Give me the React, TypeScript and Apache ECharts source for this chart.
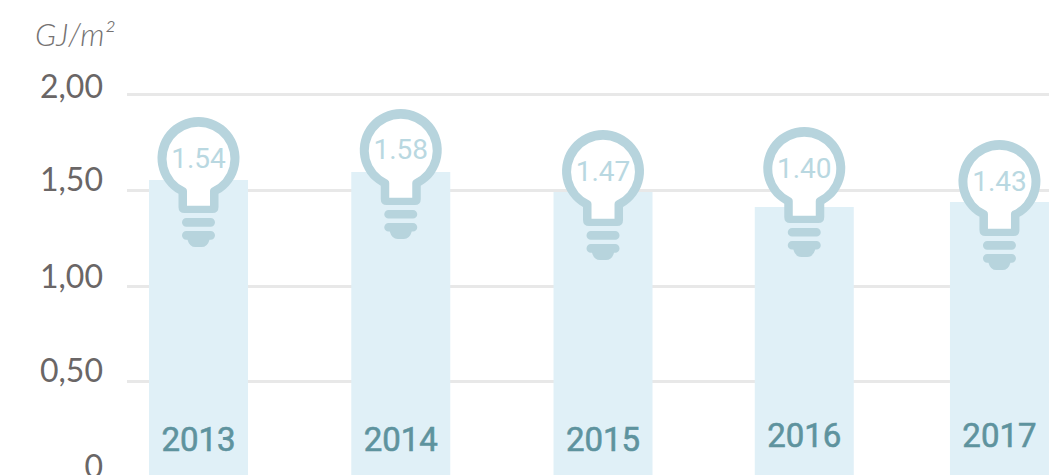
import React, { useEffect, useRef } from "react";
import * as echarts from "echarts";

const years = ["2013", "2014", "2015", "2016", "2017"];
const valueLabels = ["1.54", "1.58", "1.47", "1.40", "1.43"];
// Slots on the hidden horizontal axis: the last column sits a little closer than the others.
const slots = [0, 1, 2, 2.995, 3.96];
// Bar tops, bulb centres and year label heights as read against the y axis.
const barTops = [1.551, 1.593, 1.489, 1.411, 1.437];
const bulbLevels = [1.666, 1.708, 1.598, 1.614, 1.546];
const yearLevels = [0.2, 0.2, 0.2, 0.217, 0.217];
const yTickLabels: Record<string, string> = { "0": "0", "0.5": "0,50", "1": "1,00", "1.5": "1,50", "2": "2,00" };
const unitLabel = "GJ/m²";

echarts.graphic.registerShape(
  "bulbOuter",
  echarts.graphic.extendPath("M-20 35.8A41 41 0 1 1 20 35.8L20 49Q20 55 14 55L-14 55Q-20 55 -20 49Z", {})
);
echarts.graphic.registerShape(
  "bulbInner",
  echarts.graphic.extendPath("M-11.5 33L-11.5 47.7L11.5 47.7L11.5 33Q11.5 31 13 30A32 32 0 1 0 -13 30Q-11.5 31 -11.5 33Z", {})
);
echarts.graphic.registerShape(
  "bulbBase",
  echarts.graphic.extendPath(
    "M-12.2 60L12.2 60A4.3 4.3 0 0 1 12.2 68.6L-12.2 68.6A4.3 4.3 0 0 1 -12.2 60ZM-12.2 73L12.2 73A4.3 4.3 0 0 1 12.2 81.6L11 81.6Q9 89 3 89L-3 89Q-9 89 -11 81.6L-12.2 81.6A4.3 4.3 0 0 1 -12.2 73Z",
    {}
  )
);

const BULB = "#b7d4dd";
const BAR = "#e0f0f7";
const LABEL = "#b9d8e1";
const YEAR = "#5e939e";

export default function App() {
  const ref = useRef<HTMLDivElement>(null);
  useEffect(() => {
    document.body.style.margin = "0";
    const chart = echarts.init(ref.current!, undefined, { renderer: "svg" });
    const labelShift: Record<string, number> = { "2,00": 18, "1,50": 22, "1,00": 21, "0,50": 24, "0": 24 };
    const rich: Record<string, any> = {};
    Object.values(yTickLabels).forEach((t, i) => {
      rich["t" + i] = {
        fontFamily: "Lato",
        fontSize: 32,
        fontWeight: 400,
        color: "#6a6666",
        padding: [0, 0, labelShift[t], 0],
      };
    });
    chart.setOption({
      animation: false,
      backgroundColor: "#ffffff",
      title: {
        text: unitLabel,
        left: 30,
        top: 13,
        textStyle: { fontFamily: "Lato", fontSize: 31, fontStyle: "italic", fontWeight: 300, color: "#757272" },
      },
      grid: { left: 127, right: 0, top: 94, bottom: -2.5, containLabel: false, outerBoundsMode: "none" },
      xAxis: { type: "value", min: -0.3535, max: 4.205, show: false },
      yAxis: {
        type: "value",
        min: 0,
        max: 2,
        interval: 0.5,
        axisLine: { show: false },
        axisTick: { show: false },
        axisLabel: {
          margin: 24,
          formatter: (v: number) => {
            const t = yTickLabels[String(v)];
            return `{t${Object.values(yTickLabels).indexOf(t)}|${t}}`;
          },
          rich,
        },
        splitLine: { lineStyle: { color: "#e8e8e8", width: 3 } },
      },
      series: [
        {
          type: "custom",
          silent: true,
          clip: false,
          data: years.map((_y, i) => [slots[i], barTops[i], bulbLevels[i], yearLevels[i]]),
          encode: { x: 0, y: 1 },
          renderItem: (p: any, api: any) => {
            const x = api.value(0);
            const top = api.coord([x, api.value(1)]);
            const bottom = api.coord([x, 0]);
            const bulb = api.coord([x, api.value(2)]);
            const yr = api.coord([x, api.value(3)]);
            const w = api.size([0.4895, 0])[0];
            return {
              type: "group",
              children: [
                { type: "rect", shape: { x: top[0] - w / 2, y: top[1], width: w, height: bottom[1] - top[1] }, style: { fill: BAR } },
                { type: "bulbOuter", x: bulb[0], y: bulb[1], style: { fill: BULB } },
                { type: "bulbInner", x: bulb[0], y: bulb[1], style: { fill: "#ffffff" } },
                { type: "bulbBase", x: bulb[0], y: bulb[1], style: { fill: BULB } },
                {
                  type: "text",
                  x: bulb[0],
                  y: bulb[1],
                  style: {
                    text: valueLabels[p.dataIndex],
                    align: "center",
                    verticalAlign: "middle",
                    fontFamily: "Roboto",
                    fontSize: 28,
                    fill: LABEL,
                  },
                },
                {
                  type: "text",
                  x: yr[0],
                  y: yr[1],
                  style: {
                    text: years[p.dataIndex],
                    align: "center",
                    verticalAlign: "middle",
                    fontFamily: "Roboto",
                    fontWeight: 400,
                    fontSize: 33,
                    fill: YEAR,
                    stroke: YEAR,
                    lineWidth: 0.6,
                  },
                },
              ],
            };
          },
        },
      ],
    });
    return () => chart.dispose();
  }, []);
  return <div ref={ref} style={{ width: 1049, height: 475 }} />;
}
